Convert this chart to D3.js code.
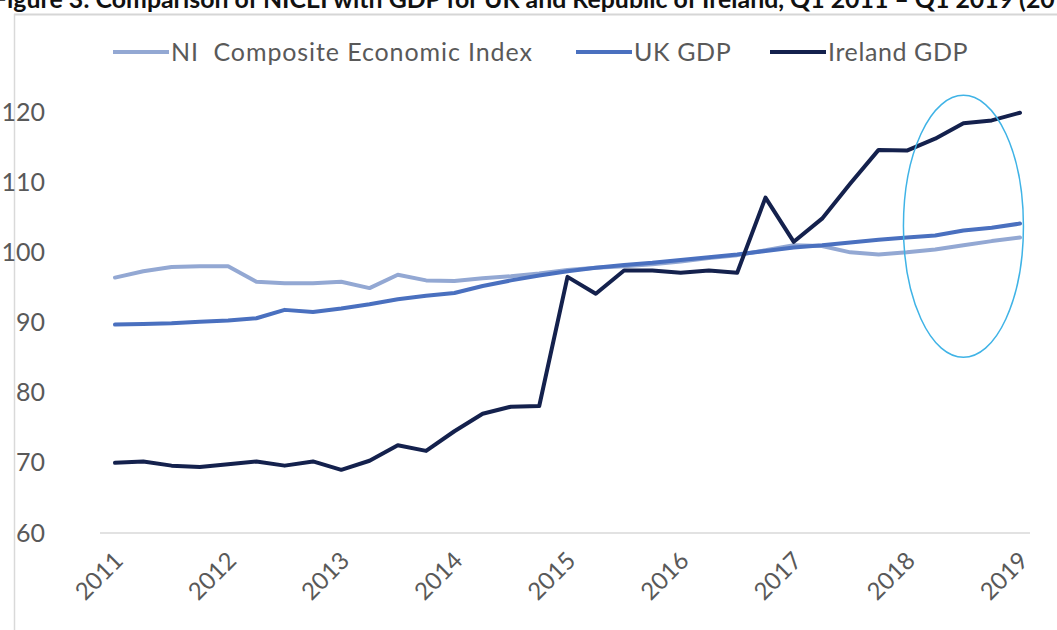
<!DOCTYPE html>
<html>
<head>
<meta charset="utf-8">
<script src="https://cdn.jsdelivr.net/npm/d3@7"></script>
<style>
  body { margin: 0; background: #fff; }
  text { font-family: Lato, "Open Sans", sans-serif; }
</style>
</head>
<body>
<script>
const years = ['2011', '2012', '2013', '2014', '2015', '2016', '2017', '2018', '2019']
const quarters = []
years.forEach(function(y, i) {
    let qs = i == years.length - 1 ? ['Q1'] : ['Q1', 'Q2', 'Q3', 'Q4']
    qs.forEach(q => quarters.push(y + ' ' + q))
});

const nicei = [96.4, 97.3, 97.9, 98.0, 98.0, 95.8, 95.6, 95.6, 95.8, 94.9, 96.8, 96.0,
    95.9, 96.3, 96.6, 97.0, 97.5, 97.8, 98.0, 98.3, 98.7, 99.2, 99.6, 100.3,
    101.0, 100.9, 100.0, 99.7, 100.0, 100.4, 101.0, 101.6, 102.1]
const ukGdp = [89.7, 89.8, 89.9, 90.1, 90.3, 90.6, 91.8, 91.5, 92.0, 92.6, 93.3, 93.8,
    94.2, 95.2, 96.0, 96.7, 97.3, 97.8, 98.2, 98.5, 98.9, 99.3, 99.7, 100.2,
    100.7, 101.0, 101.4, 101.8, 102.1, 102.4, 103.1, 103.5, 104.1]
const ieGdp = [70.0, 70.2, 69.6, 69.4, 69.8, 70.2, 69.6, 70.2, 69.0, 70.3, 72.5, 71.7,
    74.5, 77.0, 78.0, 78.1, 96.5, 94.1, 97.4, 97.4, 97.1, 97.4, 97.1, 107.8,
    101.5, 104.8, 109.8, 114.6, 114.5, 116.2, 118.4, 118.8, 119.9]
const yTicks = [60, 70, 80, 90, 100, 110, 120]

const series = [
    { name: 'NI  Composite Economic Index', values: nicei, color: '#93a8d3' },
    { name: 'UK GDP', values: ukGdp, color: '#4a70bf' },
    { name: 'Ireland GDP', values: ieGdp, color: '#14214d' }
]

const WIDTH = 1057
const HEIGHT = 630
const margin = { top: 112, bottom: 97, left: 115, right: 37 }

const svg = d3.select('body').append('svg')
    .attr('width', WIDTH)
    .attr('height', HEIGHT);

// cropped title of the source figure
const title = svg.append('text')
    .attr('x', -7)
    .attr('y', 8)
    .attr('font-weight', 'bold')
    .attr('font-size', 20)
    .attr('fill', '#111')
    .text('Figure 3: Comparison of NICEI with GDP for UK and Republic of Ireland, Q1 2011 \u2013 Q1 2019 (2016=100)');
// stretch so "(20" meets the right edge
let prefix = title.text().indexOf('(2016') + 3
let w = title.node().getSubStringLength(0, prefix)
title.attr('font-size', 20 * 1062 / w)

// chart frame
svg.append('line').attr('x1', 14).attr('x2', WIDTH).attr('y1', 14.5).attr('y2', 14.5)
    .attr('stroke', '#d6d6d6').attr('stroke-width', 2)
svg.append('line').attr('x1', 14.5).attr('x2', 14.5).attr('y1', 14).attr('y2', HEIGHT)
    .attr('stroke', '#d9d9d9').attr('stroke-width', 1.5)

const x = d3.scalePoint()
    .domain(quarters)
    .range([margin.left, WIDTH - margin.right]);

const y = d3.scaleLinear()
    .domain([60, 120])
    .range([HEIGHT - margin.bottom, margin.top]);

// x axis
const xAxis = svg.append('g')
    .attr('transform', `translate(0,${y(60)})`)
    .call(d3.axisBottom(x)
        .tickValues(quarters.filter(q => q.endsWith('Q1')))
        .tickFormat(q => q.slice(0, 4))
        .tickSize(0));
xAxis.select('.domain')
    .attr('d', `M${margin.left - 15},0H${WIDTH - margin.right + 10}`)
    .attr('stroke', '#d9d9d9')
    .attr('stroke-width', 1.5);
xAxis.selectAll('text')
    .attr('font-size', 24)
    .attr('fill', '#595959')
    .attr('text-anchor', 'end')
    .attr('dy', null)
    .attr('transform', 'translate(7,27) rotate(-45)');

// y axis
const yAxis = svg.append('g')
    .attr('transform', `translate(${margin.left - 40},0)`)
    .call(d3.axisLeft(y).tickValues(yTicks).tickSize(0).tickPadding(0));
yAxis.select('.domain').remove();
yAxis.selectAll('text')
    .attr('x', -30)
    .attr('font-size', 25)
    .attr('fill', '#595959');

// lines
const line = d3.line()
    .x((d, i) => x(quarters[i]))
    .y(d => y(d));

svg.append('g')
    .selectAll('path')
    .data(series)
    .join('path')
        .attr('d', d => line(d.values))
        .attr('fill', 'none')
        .attr('stroke', d => d.color)
        .attr('stroke-width', 4)
        .attr('stroke-linejoin', 'round')
        .attr('stroke-linecap', 'round');

// highlight ellipse round the latest quarters
svg.append('ellipse')
    .attr('cx', x('2018 Q3'))
    .attr('cy', y(103.7))
    .attr('rx', 60)
    .attr('ry', 131)
    .attr('fill', 'none')
    .attr('stroke', '#3fb3e6')
    .attr('stroke-width', 1.5);

// legend
const legendX = [113, 576, 770]
const legend = svg.append('g')
    .selectAll('g')
    .data(series)
    .join('g')
        .attr('transform', (d, i) => `translate(${legendX[i]},52)`);
legend.append('line')
    .attr('x1', 0).attr('x2', 56)
    .attr('stroke', d => d.color)
    .attr('stroke-width', 4);
legend.append('text')
    .attr('x', 58)
    .attr('dy', '0.35em')
    .attr('font-size', 25)
    .attr('letter-spacing', (d, i) => i == 0 ? 0.9 : 0.6)
    .attr('fill', '#595959')
    .attr('xml:space', 'preserve')
    .text(d => d.name);
</script>
</body>
</html>
